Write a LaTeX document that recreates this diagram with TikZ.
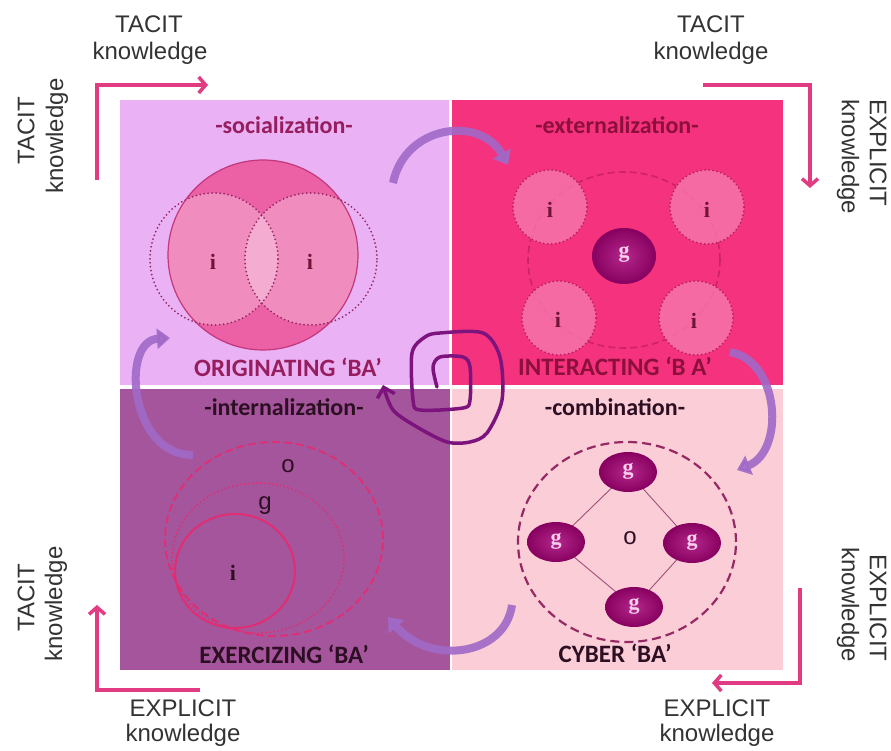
\documentclass[tikz,border=0pt]{standalone}
\usepackage{fontspec}
\setmainfont{Carlito}
\newfontfamily\arialf{Liberation Sans}
\newfontfamily\seriff{Liberation Serif}
\usetikzlibrary{arrows.meta}
\definecolor{qtl}{RGB}{234,178,244}
\definecolor{qtr}{RGB}{245,50,125}
\definecolor{qbl}{RGB}{165,85,155}
\definecolor{qbr}{RGB}{250,205,215}
\definecolor{lblink}{RGB}{225,60,130}
\definecolor{swc}{RGB}{160,105,200}
\definecolor{spiralc}{RGB}{125,20,125}
\definecolor{bigc}{RGB}{236,96,166}
\definecolor{bigcb}{RGB}{195,55,125}
\definecolor{dotc}{RGB}{150,40,100}
\definecolor{extdash}{RGB}{205,35,100}
\definecolor{smallc}{RGB}{246,120,172}
\definecolor{smallb}{RGB}{185,30,95}
\definecolor{gin}{RGB}{180,40,140}
\definecolor{gout}{RGB}{135,0,95}
\definecolor{gtext}{RGB}{250,205,235}
\definecolor{intc}{RGB}{225,45,115}
\definecolor{combdash}{RGB}{150,40,100}
\definecolor{diamc}{RGB}{160,80,120}
\definecolor{hsoc}{RGB}{150,30,95}
\definecolor{hext}{RGB}{140,15,60}
\definecolor{hdark}{RGB}{45,15,35}
\definecolor{itext}{RGB}{110,20,55}
\begin{document}
\begin{tikzpicture}[x=1pt,y=1pt,
  side/.style={font=\arialf\fontsize{24}{28}\selectfont, text=black!80, inner sep=0pt},
  head/.style={font=\bfseries\fontsize{24}{30}\selectfont, inner sep=0pt},
  ba/.style={font=\bfseries\fontsize{25}{30}\selectfont, inner sep=0pt},
  lshape/.style={draw=lblink, line width=3.5pt, -{Straight Barb[length=7pt,width=16pt]}},
  swoosh/.style={draw=swc, line width=8pt, opacity=0.9, -{Triangle[width=20pt,length=13pt]}},
  dotline/.style={line width=2pt, dash pattern=on 0pt off 4pt, line cap=round},
  letter/.style={inner sep=0pt, font=\seriff\bfseries\fontsize{22}{24}\selectfont, text=itext},
]
\useasboundingbox (0,0) rectangle (891,751);
\fill[white] (0,0) rectangle (891,751);

% quadrants
\fill[qtl] (120,366) rectangle (449,651);
\fill[qtr] (452,366) rectangle (783,651);
\fill[qbl] (120,81) rectangle (450,362);
\fill[qbr] (452,81) rectangle (783,362);

% ---------- outer labels ----------
\node[side] (t1a) at (149,727) {TACIT};
\node[side] (t1b) at (150,698) {knowledge};
\node[side] (t2a) at (711,727) {TACIT};
\node[side] (t2b) at (711,698) {knowledge};
\node[side, rotate=90] (l1a) at (26,620) {TACIT};
\node[side, rotate=90] (l1b) at (57,615) {knowledge};
\node[side, rotate=90] (l2a) at (26,153) {TACIT};
\node[side, rotate=90] (l2b) at (56,147) {knowledge};
\node[side, rotate=-90] (r1a) at (878,598) {EXPLICIT};
\node[side, rotate=-90] (r1b) at (848,594) {knowledge};
\node[side, rotate=-90] (r2a) at (878,143) {EXPLICIT};
\node[side, rotate=-90] (r2b) at (848,146) {knowledge};
\node[side] (b1a) at (183,43) {EXPLICIT};
\node[side] (b1b) at (183,16) {knowledge};
\node[side] (b2a) at (717,43) {EXPLICIT};
\node[side] (b2b) at (717,16) {knowledge};

% L-shaped arrows
\coordinate (la0) at (97,571); \coordinate (la1) at (97,666); \coordinate (la2) at (208,666);
\coordinate (lb0) at (703,666); \coordinate (lb1) at (810,666); \coordinate (lb2) at (810,563);
\coordinate (lc0) at (200,61); \coordinate (lc1) at (97,61); \coordinate (lc2) at (97,146);
\coordinate (ld0) at (800,163); \coordinate (ld1) at (800,68); \coordinate (ld2) at (712,68);
\draw[lshape] (la0) -- (la1) -- (la2);
\draw[lshape] (lb0) -- (lb1) -- (lb2);
\draw[lshape] (lc0) -- (lc1) -- (lc2);
\draw[lshape] (ld0) -- (ld1) -- (ld2);

% ---------- socialization ----------
\fill[bigc] (263,496) circle (95);
\begin{scope}
  \clip (263,496) circle (95);
  \fill[white, opacity=0.28] (214,492) ellipse [x radius=64, y radius=66];
  \fill[white, opacity=0.28] (311,492) ellipse [x radius=66, y radius=66];
\end{scope}
\draw[bigcb, line width=1.2pt] (263,496) circle (95);
\draw[dotc, dotline] (214,492) ellipse [x radius=64, y radius=66];
\draw[dotc, dotline] (311,492) ellipse [x radius=66, y radius=66];
\node[letter] (si1) at (213,489) {i};
\node[letter] (si2) at (310,489) {i};
\node[head, text=hsoc] (hs) at (284,626) {-socialization-};
\node[ba, text=hsoc] (bs) at (288,384) {ORIGINATING ‘BA’};

% ---------- externalization ----------
\draw[extdash, line width=1.6pt, dash pattern=on 7pt off 4pt] (624,491) ellipse [x radius=96, y radius=88];
\foreach \cx/\cy in {550/544, 707/544, 559/433, 696/433}{
  \fill[smallc, opacity=0.8] (\cx,\cy) circle (37);
  \draw[smallb, dotline] (\cx,\cy) circle (37);
}
\node[letter] (ei1) at (550,541) {i};
\node[letter] (ei2) at (707,541) {i};
\node[letter] (ei3) at (558,431) {i};
\node[letter] (ei4) at (694,430) {i};
\shade[inner color=gin, outer color=gout] (624,495) ellipse [x radius=32, y radius=28];
\node[inner sep=0pt, text=gtext, font=\seriff\bfseries\fontsize{22}{24}\selectfont] (eg) at (624,497) {g};
\node[head, text=hext] (he) at (617,626) {-externalization-};
\node[ba, text=hext] (be) at (615,385) {INTERACTING ‘B A’};

% ---------- internalization ----------
\draw[intc, line width=1.8pt, dash pattern=on 8pt off 4pt] (274,212) ellipse [x radius=109, y radius=97];
\draw[intc, dotline] (258,193) ellipse [x radius=86, y radius=75];
\draw[intc, line width=2pt] (235,180) ellipse [x radius=60, y radius=57];
\node[inner sep=0pt, font=\arialf\fontsize{24}{26}\selectfont, text=hdark] (io) at (288,285) {o};
\node[inner sep=0pt, font=\arialf\fontsize{24}{26}\selectfont, text=hdark] (ig) at (265,245) {g};
\node[letter, text=hdark] (ii) at (233,178) {i};
\node[head, text=hdark] (hi) at (284,344) {-internalization-};
\node[ba, text=hdark] (bi) at (284,97) {EXERCIZING ‘BA’};

% ---------- combination ----------
\draw[combdash, line width=2.2pt, dash pattern=on 9pt off 5pt] (627,209) ellipse [x radius=109, y radius=100];
\coordinate (ct) at (628,279);
\coordinate (cl) at (556,209);
\coordinate (cr) at (692,208);
\coordinate (cb) at (634,144);
\draw[diamc, line width=0.9pt] (ct) -- (cr) -- (cb) -- (cl) -- cycle;
\foreach \p in {ct,cl,cr,cb}{
  \shade[inner color=gin, outer color=gout] (\p) ellipse [x radius=29, y radius=20];
  \node[inner sep=0pt, text=gtext, font=\seriff\bfseries\fontsize{22}{24}\selectfont] at ([yshift=1pt]\p) {g};
}
\node[inner sep=0pt, font=\arialf\fontsize{24}{26}\selectfont, text=hdark] (co) at (630,213) {o};
\node[head, text=hdark] (hc) at (615,344) {-combination-};
\node[ba, text=hdark] (bc) at (615,98) {CYBER ‘BA’};

% ---------- curved swoosh arrows ----------
\coordinate (s1a) at (393,568); \coordinate (s1b) at (508,586);
\coordinate (s2a) at (730,399); \coordinate (s2b) at (737,281);
\coordinate (s3a) at (512,146); \coordinate (s3b) at (388,134);
\coordinate (s4a) at (193,296); \coordinate (s4b) at (170,413);
\draw[swoosh] (s1a) .. controls (405,626) and (480,636) .. (s1b);
\draw[swoosh] (s2a) .. controls (780,390) and (785,300) .. (s2b);
\draw[swoosh] (s3a) .. controls (505,95) and (430,85) .. (s3b);
\draw[swoosh] (s4a) .. controls (130,295) and (120,410) .. (s4b);

% ---------- spiral ----------
\draw[spiralc, line width=3.5pt, line join=round, line cap=round, -{Straight Barb[length=9pt,width=18pt]}]
  plot[smooth, tension=0.5] coordinates {(437,364) (433,384) (440,394) (463,394) (470,384) (470,351) (463,343) (420,341) (413,351) (412,398) (425,414) (440,418) (483,418) (500,394) (502,351) (487,318) (470,309) (447,309) (417,324) (393,341) (383,366)};
\end{tikzpicture}
\end{document}
